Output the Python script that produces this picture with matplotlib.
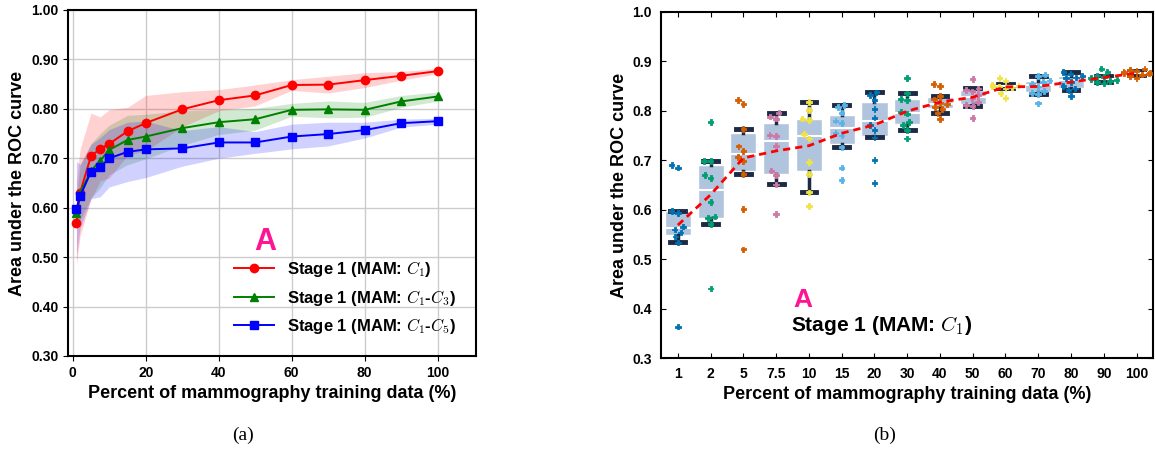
import numpy as np
import pandas as pd
import matplotlib
matplotlib.use('Agg')
import matplotlib.pyplot as plt
import seaborn as sns

plt.rcParams['font.family'] = ['Liberation Sans', 'DejaVu Sans']
plt.rcParams['font.weight'] = 'bold'
plt.rcParams['axes.labelweight'] = 'bold'
plt.rcParams['mathtext.fontset'] = 'cm'

# training data fractions
pct = [1, 2, 5, 7.5, 10, 15, 20, 30, 40, 50, 60, 70, 80, 90, 100]
pct_labels = ['1', '2', '5', '7.5', '10', '15', '20', '30', '40', '50', '60', '70', '80', '90', '100']

# per-run AUCs, Stage 1 (MAM: C1)
auc_1 = [0.690, 0.685, 0.598, 0.593, 0.566, 0.560, 0.554, 0.546, 0.534, 0.364]
auc_2 = [0.777, 0.698, 0.698, 0.670, 0.664, 0.616, 0.586, 0.583, 0.571, 0.441]
auc_5 = [0.822, 0.814, 0.763, 0.728, 0.719, 0.707, 0.699, 0.672, 0.602, 0.520]
auc_7_5 = [0.796, 0.788, 0.784, 0.751, 0.749, 0.729, 0.679, 0.670, 0.651, 0.591]
auc_10 = [0.818, 0.802, 0.784, 0.781, 0.753, 0.744, 0.696, 0.672, 0.635, 0.608]
auc_15 = [0.812, 0.807, 0.796, 0.780, 0.775, 0.755, 0.750, 0.726, 0.685, 0.660]
auc_20 = [0.837, 0.832, 0.822, 0.803, 0.786, 0.771, 0.761, 0.746, 0.701, 0.654]
auc_30 = [0.866, 0.835, 0.824, 0.821, 0.798, 0.794, 0.777, 0.771, 0.761, 0.744]
auc_40 = [0.854, 0.850, 0.830, 0.823, 0.816, 0.813, 0.807, 0.804, 0.795, 0.783]
auc_50 = [0.864, 0.845, 0.842, 0.839, 0.832, 0.825, 0.818, 0.812, 0.810, 0.785]
auc_60 = [0.866, 0.860, 0.853, 0.851, 0.850, 0.849, 0.847, 0.845, 0.835, 0.826]
auc_70 = [0.873, 0.870, 0.861, 0.858, 0.854, 0.849, 0.840, 0.836, 0.834, 0.815]
auc_80 = [0.878, 0.875, 0.870, 0.867, 0.866, 0.858, 0.850, 0.845, 0.842, 0.830]
auc_90 = [0.885, 0.879, 0.871, 0.868, 0.866, 0.864, 0.862, 0.860, 0.858, 0.855]
auc_100 = [0.885, 0.883, 0.880, 0.878, 0.877, 0.876, 0.875, 0.873, 0.870, 0.866]
c1_runs = [auc_1, auc_2, auc_5, auc_7_5, auc_10, auc_15, auc_20, auc_30,
           auc_40, auc_50, auc_60, auc_70, auc_80, auc_90, auc_100]

# Stage 1 (MAM: C1-C3) and (MAM: C1-C5): mean and std
c3_mean = [0.590, 0.630, 0.675, 0.695, 0.717, 0.737, 0.744, 0.761, 0.773, 0.779, 0.798, 0.799, 0.798, 0.815, 0.825]
c3_std = [0.030, 0.055, 0.055, 0.055, 0.050, 0.050, 0.045, 0.035, 0.025, 0.022, 0.013, 0.017, 0.015, 0.012, 0.009]
c5_mean = [0.597, 0.623, 0.673, 0.682, 0.700, 0.713, 0.718, 0.720, 0.732, 0.732, 0.744, 0.749, 0.757, 0.771, 0.775]
c5_std = [0.097, 0.065, 0.055, 0.060, 0.058, 0.060, 0.057, 0.036, 0.032, 0.022, 0.025, 0.024, 0.016, 0.008, 0.006]

c1_mean = np.array([np.mean(r) for r in c1_runs])
c1_std = np.array([np.std(r) for r in c1_runs])

cb_old = ['#0072B2', '#009E73', '#D55E00', '#CC79A7', '#F0E442', '#56B4E9']
pink = '#ff1493'

fig = plt.figure(figsize=(11.55, 4.5), dpi=100)
ax1 = fig.add_axes([0.0589, 0.2089, 0.3532, 0.7689])
ax2 = fig.add_axes([0.5727, 0.2038, 0.4255, 0.7702])

# ---- (a) mean curves with std bands
series = [
    (c1_mean, c1_std, 'red', 'o', 'Stage 1 (MAM: $C_1$)'),
    (np.array(c3_mean), np.array(c3_std), 'green', '^', 'Stage 1 (MAM: $C_1$-$C_3$)'),
    (np.array(c5_mean), np.array(c5_std), 'blue', 's', 'Stage 1 (MAM: $C_1$-$C_5$)'),
]
for m, s, col, mk, lab in series:
    ax1.fill_between(pct, m - s, m + s, color=col, alpha=0.18, lw=0)
for m, s, col, mk, lab in series:
    ax1.plot(pct, m, color=col, marker=mk, ms=6, lw=1.4, label=lab)

ax1.set_xlim(-1.3, 110.5)
ax1.set_ylim(0.30, 1.00)
ax1.set_xticks([0, 20, 40, 60, 80, 100])
ax1.set_yticks(np.arange(0.3, 1.001, 0.1))
ax1.yaxis.set_major_formatter(matplotlib.ticker.FormatStrFormatter('%.2f'))
ax1.grid(True, color='#cccccc', lw=1)
ax1.set_axisbelow(True)
ax1.tick_params(labelsize=10, direction='out', length=3.5)
ax1.set_xlabel('Percent of mammography training data (%)', fontsize=13)
ax1.set_ylabel('Area under the ROC curve', fontsize=13)
ax1.text(52.7, 0.531, 'A', color=pink, fontsize=22, ha='center', va='center')
ax1.legend(loc='lower right', frameon=False, fontsize=12, handlelength=2.4,
           borderaxespad=0.8)
for sp in ax1.spines.values():
    sp.set_linewidth(1.5)

# ---- (b) box + swarm per training fraction
pos = np.arange(len(pct_labels))
ax2.boxplot(c1_runs, positions=pos, widths=0.8, whis=0.5, showfliers=False,
            patch_artist=True, capwidths=0.45,
            boxprops=dict(facecolor='#b0c4de', edgecolor='white', lw=1),
            medianprops=dict(color='white', lw=1.5),
            whiskerprops=dict(color='#1d2a45', lw=2.5),
            capprops=dict(color='#1d2a45', lw=3.5), zorder=2)

df = pd.DataFrame({
    'pct': [lab for lab, r in zip(pct_labels, c1_runs) for _ in r],
    'auc': [v for r in c1_runs for v in r],
})
pal = {lab: cb_old[i % len(cb_old)] for i, lab in enumerate(pct_labels)}
sns.swarmplot(data=df, x='pct', y='auc', hue='pct', order=pct_labels,
              hue_order=pct_labels, palette=pal, marker='P', size=4,
              linewidth=0.6, edgecolor='face', legend=False, ax=ax2, zorder=3)

ax2.plot(pos, c1_mean, color='red', ls='--', lw=2, dashes=(2.6, 1.8), zorder=4)

ax2.set_xlim(-0.5, len(pct_labels) - 0.5)
ax2.set_ylim(0.3, 1.0)
ax2.set_xticks(pos)
ax2.set_xticklabels(pct_labels)
ax2.set_yticks(np.arange(0.3, 1.001, 0.1))
ax2.yaxis.set_major_formatter(matplotlib.ticker.FormatStrFormatter('%.1f'))
ax2.tick_params(labelsize=10, direction='in', length=3.5, top=True, right=True)
ax2.tick_params(axis='y', pad=7)
ax2.tick_params(axis='x', pad=6)
ax2.set_xlabel('Percent of mammography training data (%)', fontsize=13)
ax2.set_ylabel('Area under the ROC curve', fontsize=13, labelpad=3)
ax2.text(3.82, 0.418, 'A', color=pink, fontsize=19, ha='center', va='center')
ax2.text(3.46, 0.366, 'Stage 1 (MAM: $C_1$)', fontsize=15, ha='left', va='center')
for sp in ax2.spines.values():
    sp.set_linewidth(1.5)

fig.text(243 / 1155, 1 - 435 / 450, '(a)', family='Liberation Serif',
         fontweight='normal', fontsize=14, ha='center', va='center')
fig.text(885 / 1155, 1 - 435 / 450, '(b)', family='Liberation Serif',
         fontweight='normal', fontsize=14, ha='center', va='center')

fig.savefig('out.png', dpi=100)
